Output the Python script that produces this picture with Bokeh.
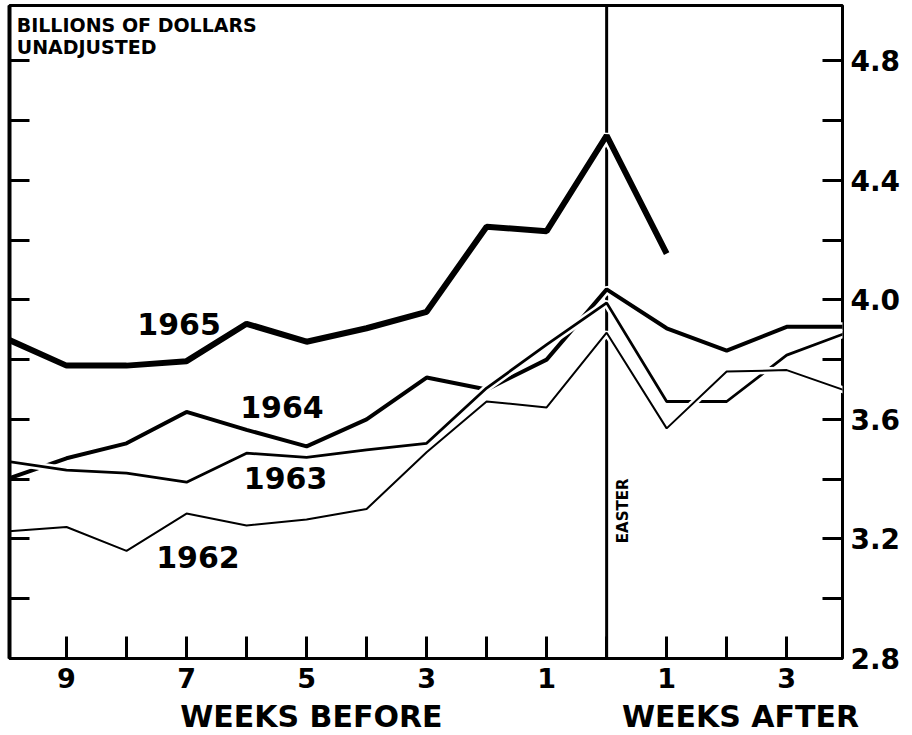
import math
import numpy as np
from bokeh.plotting import figure
from bokeh.models import LinearAxis, FixedTicker, Label, Span, Range1d, NumeralTickFormatter
from bokeh.embed import file_html
from bokeh.resources import INLINE

# ---- data -------------------------------------------------------------
weeks = [-10, -9, -8, -7, -6, -5, -4, -3, -2, -1, 0, 1, 2, 3, 4]
nan = float("nan")
y1965 = [3.87, 3.78, 3.78, 3.795, 3.92, 3.86, 3.905, 3.96, 4.245, 4.23, 4.55, 4.155, nan, nan, nan]
y1964 = [3.40, 3.47, 3.52, 3.625, 3.565, 3.51, 3.60, 3.74, 3.70, 3.80, 4.035, 3.905, 3.83, 3.91, 3.91]
y1963 = [3.46, 3.43, 3.42, 3.39, 3.487, 3.473, 3.498, 3.52, 3.705, 3.85, 3.99, 3.66, 3.66, 3.815, 3.89]
y1962 = [3.225, 3.24, 3.16, 3.285, 3.245, 3.265, 3.30, 3.49, 3.66, 3.64, 3.89, 3.57, 3.76, 3.765, 3.695]

series_names = ["1965", "1964", "1963", "1962"]
series_values = [y1965, y1964, y1963, y1962]

x_major_ticks = [-9, -7, -5, -3, -1, 1, 3]
x_major_labels = ["9", "7", "5", "3", "1", "1", "3"]
x_minor_ticks = [-8, -6, -4, -2, 0, 2]
y_major_ticks = [2.8, 3.2, 3.6, 4.0, 4.4, 4.8]
y_minor_ticks = [3.0, 3.4, 3.8, 4.2, 4.6]
period_pos = [-4.92, 2.23]
period_labels = ["WEEKS BEFORE", "WEEKS AFTER"]
easter_week = 0

# ---- styling ----------------------------------------------------------
FONT = "DejaVu Sans"
widths = [6, 4, 2.8, 2]
label_pos = [(-7.125, 3.919), (-5.41, 3.641), (-5.35, 3.403), (-6.81, 3.141)]

p = figure(frame_width=833, frame_height=653,
           x_range=Range1d(-9.95, 3.93), y_range=Range1d(2.8, 4.985),
           output_backend="svg", toolbar_location=None,
           x_axis_location=None, y_axis_location=None,
           min_border_left=9, min_border_top=5, min_border_bottom=0,
           min_border_right=0)
p.outline_line_color = "black"
p.outline_line_width = 3
p.background_fill_color = "white"
p.border_fill_color = "white"
p.xgrid.grid_line_color = None
p.ygrid.grid_line_color = None
p.xgrid.visible = False
p.ygrid.visible = False

def style_axis(ax, tick_len, size):
    ax.axis_line_color = None
    ax.major_tick_in = tick_len
    ax.major_tick_out = 0
    ax.minor_tick_in = tick_len
    ax.minor_tick_out = 0
    ax.major_tick_line_width = 3
    ax.minor_tick_line_width = 3
    ax.major_tick_line_color = "black"
    ax.minor_tick_line_color = "black"
    ax.major_label_text_font = FONT
    ax.major_label_text_font_style = "bold"
    ax.major_label_text_font_size = size
    ax.major_label_text_color = "black"

xaxis = LinearAxis(ticker=FixedTicker(ticks=x_major_ticks, minor_ticks=x_minor_ticks),
                   major_label_overrides=dict(zip(x_major_ticks, x_major_labels)))
style_axis(xaxis, 22, "27px")
xaxis.major_label_standoff = 9
p.add_layout(xaxis, "below")

waxis = LinearAxis(ticker=FixedTicker(ticks=period_pos, minor_ticks=[]),
                   major_label_overrides=dict(zip(period_pos, period_labels)))
style_axis(waxis, 0, "30px")
waxis.major_tick_line_color = None
waxis.minor_tick_line_color = None
waxis.major_label_standoff = 8
p.add_layout(waxis, "below")

raxis = LinearAxis(ticker=FixedTicker(ticks=y_major_ticks, minor_ticks=y_minor_ticks),
                   formatter=NumeralTickFormatter(format="0.0"))
style_axis(raxis, 20, "28px")
raxis.major_label_standoff = 8
p.add_layout(raxis, "right")

laxis = LinearAxis(ticker=FixedTicker(ticks=y_major_ticks, minor_ticks=y_minor_ticks))
style_axis(laxis, 20, "0px")
laxis.axis_line_color = "black"
laxis.axis_line_width = 4
laxis.major_label_standoff = 0
laxis.major_label_overrides = {t: "" for t in y_major_ticks}
p.add_layout(laxis, "left")

# Easter line, beneath the series so the series casings break it
easter = Span(location=easter_week, dimension="height", line_color="black",
              line_width=3, level="underlay")
p.add_layout(easter)

for name, ys, w in zip(series_names, series_values, widths):
    arr = np.array(ys, dtype=float)
    p.line(weeks, arr, line_color="white", line_width=w + 5)
    p.line(weeks, arr, line_color="black", line_width=w)

for name, (lx, ly) in zip(series_names, label_pos):
    p.add_layout(Label(x=lx, y=ly, text=name, text_align="center",
                       text_baseline="middle", text_font=FONT,
                       text_font_style="bold", text_font_size="30px",
                       text_color="black"))

p.add_layout(Label(x=-9.83, y=4.919, text="BILLIONS OF DOLLARS",
                   text_baseline="alphabetic", text_font=FONT,
                   text_font_style="bold", text_font_size="19px", text_color="black"))
p.add_layout(Label(x=-9.83, y=4.846, text="UNADJUSTED",
                   text_baseline="alphabetic", text_font=FONT,
                   text_font_style="bold", text_font_size="19px", text_color="black"))

p.add_layout(Label(x=0.275, y=3.294, text="EASTER", angle=math.pi / 2,
                   text_align="center", text_baseline="middle", text_font=FONT,
                   text_font_style="bold", text_font_size="15px", text_color="black"))

open("out.html", "w").write(file_html(p, INLINE))
